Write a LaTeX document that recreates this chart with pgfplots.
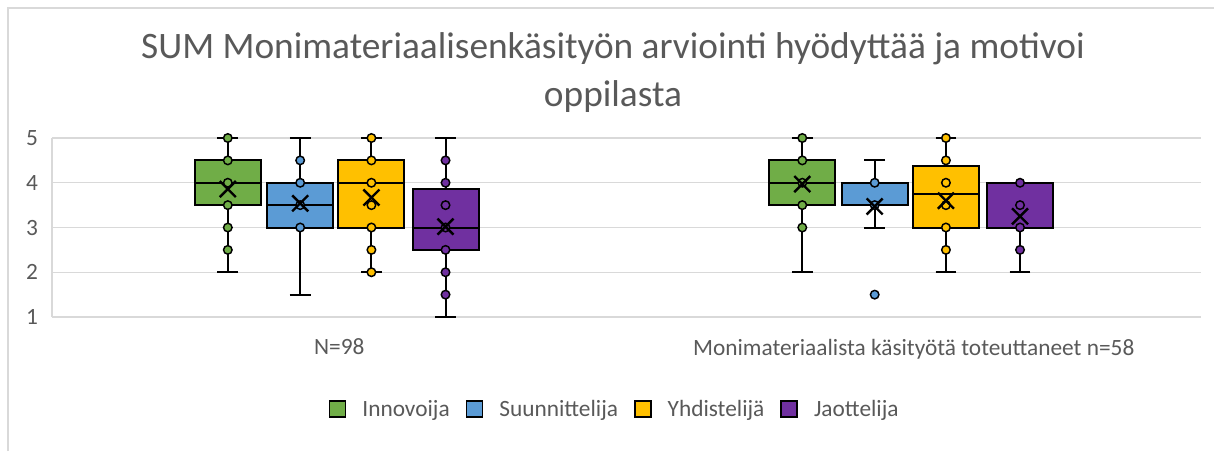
\documentclass[border=0pt]{standalone}
\usepackage{pgfplots}
\pgfplotsset{compat=1.18}
\usepgfplotslibrary{statistics}
\usepackage{fontspec}
\setmainfont{Carlito}
\definecolor{cG}{HTML}{70AD47}
\definecolor{cB}{HTML}{5B9BD5}
\definecolor{cY}{HTML}{FFC000}
\definecolor{cP}{HTML}{7030A0}
\definecolor{txt}{HTML}{595959}
\definecolor{gridc}{HTML}{D9D9D9}
\begin{document}
\begin{tikzpicture}
\begin{scope}[x=0.75pt,y=-0.75pt]
\path[use as bounding box] (0,0) rectangle (1214,451);
\draw[gridc, line width=1pt] (8,451) -- (8,8) -- (1214,8);
\node[txt, font=\fontsize{28}{34}\selectfont, anchor=base] at (613,58) {SUM Monimateriaalisenkäsityön arviointi hyödyttää ja motivoi};
\node[txt, font=\fontsize{28}{34}\selectfont, anchor=base] at (613,106) {oppilasta};
\end{scope}
\begin{axis}[
  at={(39pt,-237.75pt)}, anchor=south west,
  scale only axis, width=861.75pt, height=134.25pt,
  xmin=-0.5, xmax=1.5, ymin=1, ymax=5,
  xtick={0,1}, xticklabels={N=98, Monimateriaalista käsityötä toteuttaneet n=58},
  ytick={1,2,3,4,5},
  /pgf/number format/assume math mode=true,
  axis lines*=left, axis line style={-, gridc, line width=1pt},
  ymajorgrids, grid style={gridc, line width=1.1pt},
  major tick length=0pt,
  tick label style={txt, font=\fontsize{17.5}{21}\selectfont},
  yticklabel style={xshift=-7pt},
  xticklabel style={yshift=-13pt},
  clip=false,
  legend columns=4,
  legend style={at={(0.49,-0.514)}, anchor=center, draw=none, font=\fontsize{17.5}{21}\selectfont, text=txt, column sep=10pt},
  legend image code/.code={\draw[#1] (0pt,-6pt) rectangle (12pt,6pt);},
  boxplot/draw direction=y,
  boxplot/box extend=0.115,
  boxplot/whisker extend=0.036,
  boxplot/every box/.style={draw=black, line width=1.5pt},
  boxplot/every whisker/.style={black, line width=1.5pt},
  boxplot/every median/.style={black, line width=1.5pt},
  pts/.style={only marks, mark=*, mark size=3.2pt, mark options={draw=black, line width=1.1pt, fill=#1}, forget plot},
  avg/.style={only marks, mark=x, mark size=8.5pt, mark options={draw=black, line width=1.8pt}, forget plot},
]
% Group 1 (N=98)
\addplot+[forget plot, fill=cG, draw=black, mark=none, boxplot prepared={draw position=-0.194, lower whisker=2, lower quartile=3.5, median=4, upper quartile=4.5, upper whisker=5}] coordinates {};
\addplot+[forget plot, fill=cB, draw=black, mark=none, boxplot prepared={draw position=-0.068, lower whisker=1.5, lower quartile=3, median=3.5, upper quartile=4, upper whisker=5}] coordinates {};
\addplot+[forget plot, fill=cY, draw=black, mark=none, boxplot prepared={draw position=0.056, lower whisker=2, lower quartile=3, median=4, upper quartile=4.5, upper whisker=5}] coordinates {};
\addplot+[forget plot, fill=cP, draw=black, mark=none, boxplot prepared={draw position=0.185, lower whisker=1, lower quartile=2.5, median=3, upper quartile=3.87, upper whisker=5}] coordinates {};
% Group 2 (n=58)
\addplot+[forget plot, fill=cG, draw=black, mark=none, boxplot prepared={draw position=0.806, lower whisker=2, lower quartile=3.5, median=4, upper quartile=4.5, upper whisker=5}] coordinates {};
\addplot+[forget plot, fill=cB, draw=black, mark=none, boxplot prepared={draw position=0.932, lower whisker=3, lower quartile=3.5, median=3.5, upper quartile=4, upper whisker=4.5}] coordinates {};
\addplot+[forget plot, fill=cY, draw=black, mark=none, boxplot prepared={draw position=1.056, lower whisker=2, lower quartile=3, median=3.75, upper quartile=4.37, upper whisker=5}] coordinates {};
\addplot+[forget plot, fill=cP, draw=black, mark=none, boxplot prepared={draw position=1.185, lower whisker=2, lower quartile=3, median=3, upper quartile=4, upper whisker=4}] coordinates {};
% points
\addplot[pts=cG] coordinates {(-0.194,5) (-0.194,4.5) (-0.194,4) (-0.194,3.5) (-0.194,3) (-0.194,2.5)
  (0.806,5) (0.806,4.5) (0.806,4) (0.806,3.5) (0.806,3)};
\addplot[pts=cB] coordinates {(-0.068,4.5) (-0.068,4) (-0.068,3.5) (-0.068,3)
  (0.932,4) (0.932,3.5) (0.932,1.5)};
\addplot[pts=cY] coordinates {(0.056,5) (0.056,4.5) (0.056,4) (0.056,3.5) (0.056,3) (0.056,2.5) (0.056,2)
  (1.056,5) (1.056,4.5) (1.056,4) (1.056,3.5) (1.056,3) (1.056,2.5)};
\addplot[pts=cP] coordinates {(0.185,4.5) (0.185,4) (0.185,3.5) (0.185,3) (0.185,2.5) (0.185,2) (0.185,1.5)
  (1.185,4) (1.185,3.5) (1.185,3) (1.185,2.5)};
% averages
\addplot[avg] coordinates {(-0.194,3.86) (-0.068,3.54) (0.056,3.67) (0.185,3.02)
  (0.806,3.97) (0.932,3.47) (1.056,3.6) (1.185,3.25)};
\addlegendimage{fill=cG, draw=black, line width=1.2pt}\addlegendentry{Innovoija}
\addlegendimage{fill=cB, draw=black, line width=1.2pt}\addlegendentry{Suunnittelija}
\addlegendimage{fill=cY, draw=black, line width=1.2pt}\addlegendentry{Yhdistelijä}
\addlegendimage{fill=cP, draw=black, line width=1.2pt}\addlegendentry{Jaottelija}
\end{axis}
\end{tikzpicture}
\end{document}
